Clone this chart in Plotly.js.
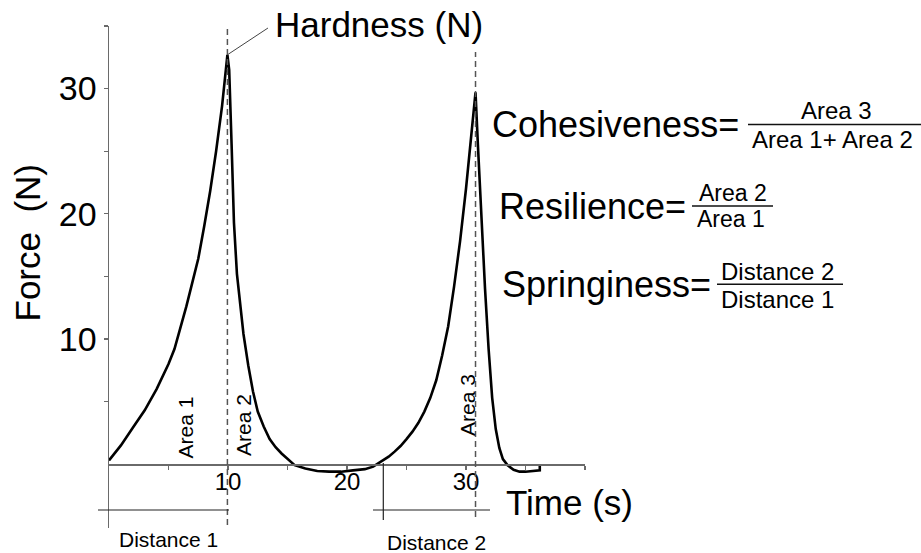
<!DOCTYPE html>
<html><head><meta charset="utf-8">
<script src="https://cdn.plot.ly/plotly-3.0.1.min.js"></script>
<style>html,body{margin:0;padding:0;background:#fff;overflow:hidden}</style>
</head><body>
<div id="chart" style="width:921px;height:553px"></div>
<script>
// ---- data ----
const timeS = [0.0, 1.0, 2.0, 3.0, 4.0, 5.0, 5.5, 6.0, 6.5, 7.0, 7.5, 8.0, 8.5, 9.0, 9.5, 9.95,
  10.1, 10.3, 10.5, 10.75, 11.0, 11.3, 11.7, 12.1, 12.5, 13.0, 13.5, 14.0, 14.5, 15.0, 15.6,
  16.5, 17.5, 18.5, 19.5, 20.5, 21.5, 22.2, 22.9, 23.5, 24.0, 24.5, 25.0, 25.5, 26.0, 26.5,
  27.0, 27.5, 28.0, 28.5, 29.0, 29.5, 30.0, 30.4, 30.8,
  31.0, 31.3, 31.6, 31.9, 32.2, 32.5, 32.8, 33.1, 33.5, 34.0, 34.5, 35.0, 36.2, 36.2];
const forceN = [0.3, 1.5, 2.9, 4.3, 6.0, 8.0, 9.2, 10.8, 12.6, 14.5, 16.4, 19.0, 21.8, 25.0, 28.6, 32.7,
  31.5, 25.6, 19.3, 15.2, 13.1, 10.4, 7.9, 5.8, 4.2, 3.0, 2.0, 1.35, 0.85, 0.4, -0.08,
  -0.35, -0.55, -0.6, -0.6, -0.5, -0.4, -0.2, 0.2, 0.6, 1.0, 1.45, 2.0, 2.6, 3.3, 4.2,
  5.3, 6.7, 8.7, 11.0, 14.2, 17.8, 22.0, 25.9, 29.7,
  25.5, 19.5, 14.0, 9.2, 5.3, 2.8, 1.3, 0.4, -0.1, -0.45, -0.6, -0.6, -0.5, 0.0];
const xTickVals = [5, 10, 15, 20, 25, 30, 35, 40];
const xTickText = ['', '10', '', '20', '', '30', '', ''];
const yTickVals = [5, 10, 15, 20, 25, 30, 35];
const yTickText = ['', '10', '', '20', '', '30', ''];
const secondCycleStart = 23.05;   // time where the second compression starts (Distance 2)
const areaLabels = ['Area 1', 'Area 2', 'Area 3'];
const distanceLabels = ['Distance 1', 'Distance 2'];
const formulaNames = ['Cohesiveness=', 'Resilience=', 'Springiness='];
const formulaNumerators = ['Area 3', 'Area 2', 'Distance 2'];
const formulaDenominators = ['Area 1+ Area 2', 'Area 1', 'Distance 1'];

// ---- layout geometry (pixels) ----
const FONT = 'Liberation Sans, Arial, Helvetica, sans-serif';
const L = 109, T = 26, W = 476, H = 502;
const xMin = 0, xMax = 40, yMin = -5.1, yMax = 35;
const px = X => (X - L) / W;
const py = Y => (T + H - Y) / H;

// peaks of both compression cycles
function argmaxWhere(cond) {
  let best = -1;
  for (let i = 0; i < timeS.length; i++) if (cond(timeS[i]) && (best < 0 || forceN[i] > forceN[best])) best = i;
  return best;
}
const p1 = argmaxWhere(t => t < secondCycleStart);
const p2 = argmaxWhere(t => t >= secondCycleStart);

const lineGray = '#6a6a6a';
const shapes = [
  // dashed verticals through the peaks
  {type: 'line', xref: 'x', yref: 'paper', x0: timeS[p1], x1: timeS[p1], y0: py(525), y1: py(26),
   line: {color: '#555', width: 1.5, dash: '6px,4px'}},
  {type: 'line', xref: 'x', yref: 'paper', x0: timeS[p2], x1: timeS[p2], y0: py(517), y1: py(52),
   line: {color: '#555', width: 1.5, dash: '6px,4px'}},
  // hardness leader line
  {type: 'line', xref: 'x', yref: 'y', x0: timeS[p1], y0: forceN[p1], x1: 13.36, y1: 34.84,
   line: {color: '#444', width: 1}},
  // distance markers
  {type: 'line', xref: 'paper', yref: 'paper', x0: px(98), x1: px(229), y0: py(510), y1: py(510),
   line: {color: '#222', width: 1.2}},
  {type: 'line', xref: 'paper', yref: 'paper', x0: px(373), x1: px(490), y0: py(510), y1: py(510),
   line: {color: '#222', width: 1.2}},
  {type: 'line', xref: 'x', yref: 'paper', x0: secondCycleStart, x1: secondCycleStart, y0: py(463), y1: py(520),
   line: {color: '#222', width: 1.2}},
  // fraction bars
  {type: 'line', xref: 'paper', yref: 'paper', x0: px(748), x1: px(921), y0: py(124.5), y1: py(124.5),
   line: {color: '#111', width: 1.5}},
  {type: 'line', xref: 'paper', yref: 'paper', x0: px(692), x1: px(773), y0: py(206), y1: py(206),
   line: {color: '#111', width: 1.5}},
  {type: 'line', xref: 'paper', yref: 'paper', x0: px(717), x1: px(843), y0: py(284.3), y1: py(284.3),
   line: {color: '#111', width: 1.5}}
];

function ann(text, X, Y, size, opts) {
  return Object.assign({text: text, xref: 'paper', yref: 'paper', x: px(X), y: py(Y),
    xanchor: 'center', yanchor: 'middle', showarrow: false, borderpad: 0,
    font: {family: FONT, size: size, color: '#000'}}, opts || {});
}

const annotations = [
  ann('Force\u00a0 (N)', 27, 242.5, 35, {textangle: -90}),
  ann('Time (s)', 505, 502, 35, {xanchor: 'left'}),
  ann('Hardness (N)', 274, 24, 35, {xanchor: 'left'}),
  ann(areaLabels[0], 184.5, 428, 21, {textangle: -90}),
  ann(areaLabels[1], 243, 425, 21, {textangle: -90}),
  ann(areaLabels[2], 467.5, 405.5, 21, {textangle: -90}),
  ann(distanceLabels[0], 168, 539.5, 21),
  ann(distanceLabels[1], 436, 542.5, 21),
  ann(formulaNames[0], 491, 124.5, 36, {xanchor: 'left'}),
  ann(formulaNames[1], 498, 206, 36, {xanchor: 'left'}),
  ann(formulaNames[2], 500.5, 284.3, 36, {xanchor: 'left'}),
  ann(formulaNumerators[0], 836, 111, 24),
  ann(formulaDenominators[0], 832.5, 139.5, 24),
  ann(formulaNumerators[1], 733, 193, 23),
  ann(formulaDenominators[1], 731, 219.2, 23),
  ann(formulaNumerators[2], 777.5, 271.5, 24),
  ann(formulaDenominators[2], 777, 299.5, 24)
];

const trace = {
  x: timeS, y: forceN, type: 'scatter', mode: 'lines',
  line: {color: '#000', width: 2.6, shape: 'linear'},
  hoverinfo: 'skip', showlegend: false
};

const layout = {
  width: 921, height: 553,
  margin: {l: L, r: 921 - L - W, t: T, b: 553 - T - H, pad: 0},
  paper_bgcolor: '#fff', plot_bgcolor: '#fff',
  showlegend: false,
  font: {family: FONT, color: '#000'},
  xaxis: {
    range: [xMin, xMax], anchor: 'free', position: (0 - yMin) / (yMax - yMin),
    showline: true, linecolor: lineGray, linewidth: 1.5,
    showgrid: false, zeroline: false,
    ticks: 'outside', ticklen: 4, tickwidth: 1.2, tickcolor: lineGray,
    ticklabelstandoff: -8,
    tickmode: 'array', tickvals: xTickVals, ticktext: xTickText,
    tickfont: {family: FONT, size: 24, color: '#000'}
  },
  yaxis: {
    range: [yMin, yMax],
    showline: true, linecolor: lineGray, linewidth: 1.5,
    showgrid: false, zeroline: false,
    ticks: 'outside', ticklen: 4, tickwidth: 1.2, tickcolor: lineGray,
    tickmode: 'array', tickvals: yTickVals, ticktext: yTickText,
    tickfont: {family: FONT, size: 34, color: '#000'}
  },
  shapes: shapes,
  annotations: annotations
};

Plotly.newPlot('chart', [trace], layout, {staticPlot: true, displayModeBar: false});
</script>
</body></html>
